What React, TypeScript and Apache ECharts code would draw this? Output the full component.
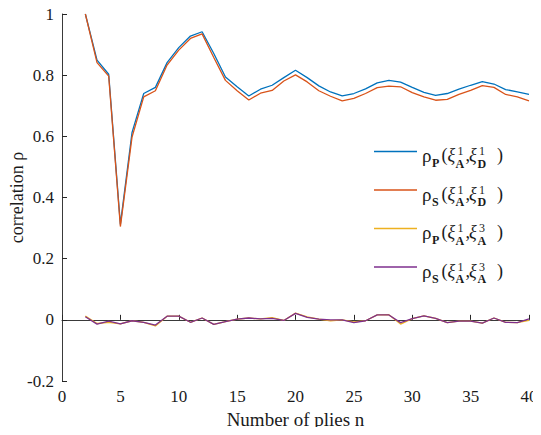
import React, { useEffect, useRef } from "react";
import * as echarts from "echarts";

const plies = [2,3,4,5,6,7,8,9,10,11,12,13,14,15,16,17,18,19,20,21,22,23,24,25,26,27,28,29,30,31,32,33,34,35,36,37,38,39,40];
const pearsonAD = [1.0,0.849,0.803,0.312,0.613,0.740,0.760,0.841,0.890,0.928,0.942,0.871,0.794,0.762,0.732,0.754,0.767,0.792,0.816,0.792,0.765,0.745,0.732,0.740,0.755,0.775,0.783,0.777,0.760,0.744,0.734,0.740,0.754,0.767,0.779,0.771,0.753,0.745,0.737];
const spearmanAD = [1.0,0.841,0.797,0.305,0.598,0.729,0.749,0.833,0.882,0.920,0.935,0.858,0.783,0.749,0.719,0.741,0.750,0.781,0.801,0.778,0.749,0.731,0.716,0.724,0.740,0.759,0.764,0.762,0.743,0.729,0.718,0.721,0.737,0.750,0.766,0.760,0.737,0.729,0.716];
const pearsonAA = [0.012,-0.012,-0.008,-0.013,-0.003,-0.008,-0.020,0.012,0.012,-0.008,0.006,-0.015,-0.006,0.002,0.006,0.003,0.007,-0.002,0.022,0.010,0.002,-0.003,0.000,-0.007,-0.003,0.016,0.017,-0.014,0.004,0.013,0.005,-0.009,-0.004,-0.004,-0.011,0.006,-0.008,-0.009,-0.002];
const spearmanAA = [0.010,-0.014,-0.004,-0.013,-0.003,-0.008,-0.017,0.012,0.012,-0.008,0.006,-0.015,-0.006,0.002,0.006,0.003,0.005,-0.002,0.021,0.008,0.002,0.000,0.000,-0.009,-0.003,0.016,0.016,-0.009,0.004,0.013,0.005,-0.009,-0.004,-0.004,-0.011,0.006,-0.008,-0.009,0.003];

const seriesNames = ["ρP(ξ1A,ξ1D)", "ρS(ξ1A,ξ1D)", "ρP(ξ1A,ξ3A)", "ρS(ξ1A,ξ3A)"];
const seriesColors = ["#0072BD", "#D95319", "#EDB120", "#7E2F8E"];
const seriesData = [pearsonAD, spearmanAD, pearsonAA, spearmanAA];
const legendParts = [
  { sub: "P", sup2: "1", sub2: "D" },
  { sub: "S", sup2: "1", sub2: "D" },
  { sub: "P", sup2: "3", sub2: "A" },
  { sub: "S", sup2: "3", sub2: "A" },
];

const FONT = "Liberation Serif";
const TXT = "#1a1a1a";

function txt(x: number, y: number, text: string, size: number, weight = "normal", style = "normal") {
  return {
    type: "text",
    x,
    y,
    style: {
      text,
      fontSize: size,
      fontFamily: FONT,
      fontWeight: weight,
      fontStyle: style,
      fill: TXT,
      textAlign: "left",
      textVerticalAlign: "middle",
    },
  };
}

function legendRow(i: number) {
  const y = 151.5 + i * 38.5;
  const p = legendParts[i];
  return {
    type: "group",
    children: [
      { type: "line", shape: { x1: 374, y1: y, x2: 417, y2: y }, style: { stroke: seriesColors[i], lineWidth: 1.5 } },
      txt(422, y + 4, "ρ", 19),
      txt(432, y + 11.5, p.sub, 12, "bold"),
      txt(441.5, y + 3.5, "(", 18),
      txt(447.5, y + 3.5, "ξ", 18, "normal", "italic"),
      txt(457.5, y - 0.5, "1", 12),
      txt(455.5, y + 12, "A", 12, "bold"),
      txt(465.5, y + 3.5, ",", 18),
      txt(469, y + 3.5, "ξ", 18, "normal", "italic"),
      txt(479, y - 0.5, p.sup2, 12),
      txt(477.5, y + 12, p.sub2, 12, "bold"),
      txt(497, y + 3.5, ")", 18),
    ],
  };
}

export default function App() {
  const ref = useRef<HTMLDivElement>(null);
  useEffect(() => {
    if (!ref.current) return;
    const chart = echarts.init(ref.current, null, { renderer: "svg" });
    const axisLine = { show: true, lineStyle: { color: "#3a3a3a", width: 1 } };
    chart.setOption({
      animation: false,
      backgroundColor: "#ffffff",
      textStyle: { fontFamily: FONT },
      grid: { left: 62, right: 12, top: 14, bottom: 54, containLabel: false, outerBoundsMode: "none" },
      xAxis: {
        type: "value",
        min: 0,
        max: 40,
        interval: 5,
        name: "Number of plies n",
        nameLocation: "middle",
        nameGap: 29,
        nameMoveOverlap: false,
        nameTextStyle: { fontSize: 19, color: TXT, fontFamily: FONT },
        axisLine,
        axisTick: { show: true, inside: true, length: 5, lineStyle: { color: "#262626" } },
        axisLabel: { fontSize: 17, color: TXT, fontFamily: FONT, margin: 7 },
        splitLine: { show: false },
      },
      yAxis: {
        type: "value",
        min: -0.2,
        max: 1,
        interval: 0.2,
        name: "correlation ρ",
        nameLocation: "middle",
        nameGap: 36,
        nameMoveOverlap: false,
        nameTextStyle: { fontSize: 18, color: TXT, fontFamily: FONT },
        axisLine,
        axisTick: { show: true, inside: true, length: 5, lineStyle: { color: "#262626" } },
        axisLabel: {
          fontSize: 17,
          color: TXT,
          fontFamily: FONT,
          margin: 8,
          formatter: (v: number) => String(Math.round(v * 10) / 10),
        },
        splitLine: { show: false },
      },
      legend: { show: false, data: seriesNames },
      series: seriesData.map((d, i) => ({
        name: seriesNames[i],
        type: "line",
        data: plies.map((n, k) => [n, d[k]]),
        showSymbol: false,
        symbol: "none",
        lineStyle: { color: seriesColors[i], width: 1.3 },
        itemStyle: { color: seriesColors[i] },
        z: 2 + i,
      })),
      graphic: legendParts.map((_, i) => legendRow(i)),
    });
    return () => chart.dispose();
  }, []);
  return <div ref={ref} style={{ width: 541, height: 435, margin: -8 }} />;
}
